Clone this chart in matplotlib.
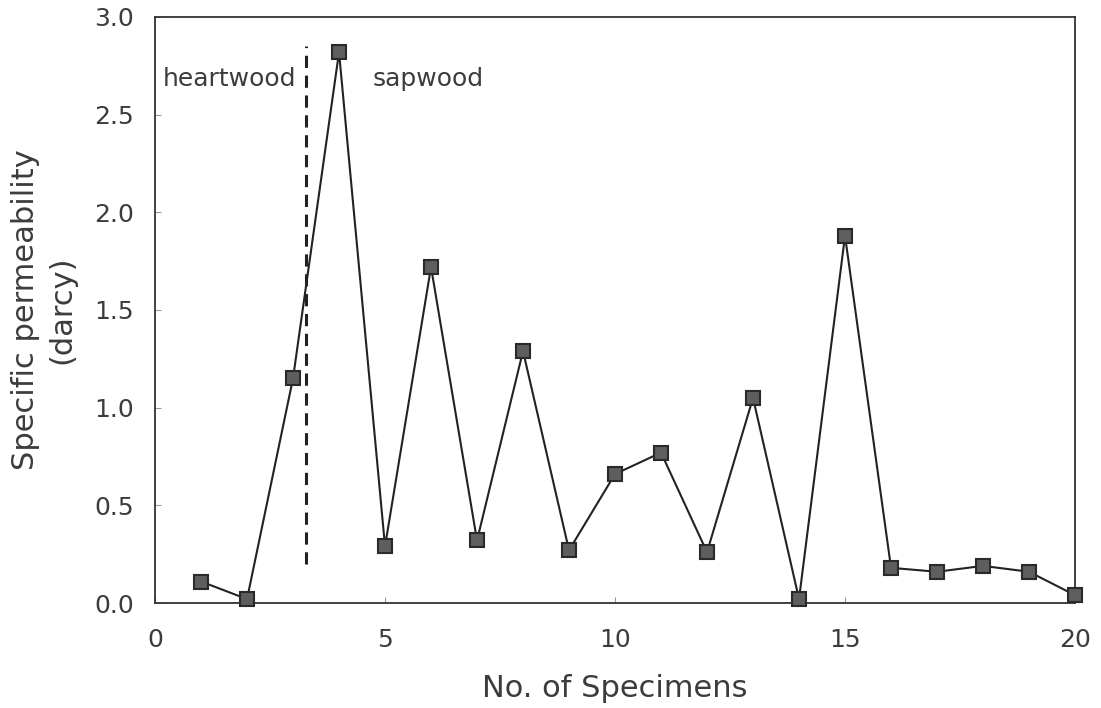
import matplotlib
matplotlib.use("Agg")
import matplotlib.pyplot as plt

specimens = list(range(1, 21))
permeability = [0.11, 0.02, 1.15, 2.82, 0.29, 1.72, 0.32, 1.29, 0.27, 0.66,
                0.77, 0.26, 1.05, 0.02, 1.88, 0.18, 0.16, 0.19, 0.16, 0.04]
boundary_x = 3.28
boundary_y = [0.2, 2.85]
xticks = [0, 5, 10, 15, 20]
yticks = [0.0, 0.5, 1.0, 1.5, 2.0, 2.5, 3.0]

plt.rcParams['font.family'] = ['DejaVu Sans']
txt = '#3c3c3c'

fig = plt.figure(figsize=(11.01, 7.08), dpi=100)
ax = fig.add_axes([0.1408, 0.1483, 0.8356, 0.8277])

ax.plot(specimens, permeability, color='#222222', lw=1.5,
        marker='s', markersize=10, markerfacecolor='#5e5e5e',
        markeredgecolor='#2a2a2a', markeredgewidth=1.5, clip_on=False, zorder=3)
ax.plot([boundary_x, boundary_x], boundary_y, color='#222222', lw=2.2,
        linestyle=(0, (4, 2.5)))

ax.text(0.17, 2.645, 'heartwood', fontsize=18, color=txt, ha='left', va='baseline')
ax.text(4.72, 2.645, 'sapwood', fontsize=18, color=txt, ha='left', va='baseline')

ax.set_xlim(0, 20)
ax.set_ylim(0, 3.0)
ax.set_xticks(xticks)
ax.set_yticks(yticks)
ax.set_xticklabels([str(v) for v in xticks])
ax.set_yticklabels([f'{v:.1f}' for v in yticks])
ax.tick_params(direction='in', length=4, width=0.8, colors='#999999',
               labelcolor=txt, labelsize=18)
ax.tick_params(axis='x', pad=18)
ax.tick_params(axis='y', pad=15)
for s in ax.spines.values():
    s.set_color('#333333')
    s.set_linewidth(1.3)

ax.set_xlabel('No. of Specimens', fontsize=22, color=txt, labelpad=16)
ax.set_ylabel('Specific permeability\n(darcy)', fontsize=22, color=txt,
              labelpad=13, linespacing=1.3)

fig.savefig('out.png', dpi=100)
